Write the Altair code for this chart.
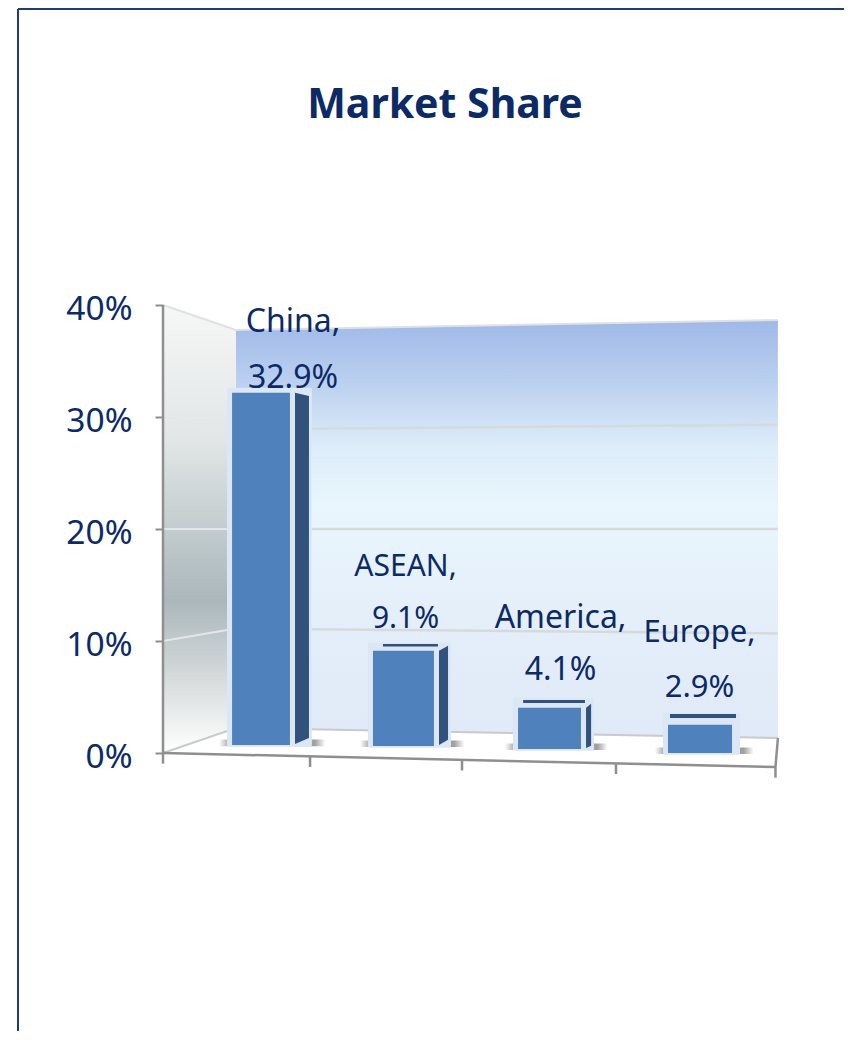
import altair as alt
import pandas as pd

categories = ["China", "ASEAN", "America", "Europe"]
values = [32.9, 9.1, 4.1, 2.9]
tick_values = [0, 10, 20, 30, 40]
label_first = ["China,", "ASEAN,", "America,", "Europe,"]
label_second = ["32.9%", "9.1%", "4.1%", "2.9%"]

NAVY = "#0b2a66"
FONT = "Noto Sans"

# geometry of the pseudo-3D scene, in axis units (category slots / percent)
bar_left = [0.45, 1.368, 2.313, 3.29]
bar_right = [0.827, 1.765, 2.723, 3.707]
bar_base = [0.71, 0.625, 0.357, 0.0]
side_w = [0.091, 0.059, 0.033, 0.0]
side_top_rise = [-0.27, 0.45, 0.36, 0.0]
side_bot_rise = [0.54, 0.45, 0.18, 0.0]
halo_rise = [0.45, 0.71, 0.89, 1.07]
strip_dx = [0.0, 0.065, 0.033, 0.013]
strip_rise_hi = [0.0, 0.6, 0.69, 0.95]
strip_rise_lo = [0.0, 0.38, 0.42, 0.59]
label_x = [0.847, 1.58, 2.59, 3.495]
label_y1 = [38.66, 16.79, 12.23, 10.89]
label_y2 = [33.66, 12.14, 7.59, 5.98]
label_size = [32, 30, 32, 31]
floor_ticks = [0.0, 0.958, 1.948, 2.951, 3.99]

WALL_L, WALL_R = 0.475, 4.006
WALL_BL, WALL_TL, WALL_BR, WALL_TR = 2.23, 37.77, 1.34, 38.66
FRONT_END = -1.25

xs = alt.Scale(domain=[0, 4])
ys = alt.Scale(domain=[-2.5, 40])

y_axis = alt.Axis(
    values=tick_values, domain=False, grid=False, ticks=True, tickSize=8, tickWidth=2,
    tickColor="#8f8f8f", labelExpr="datum.value + '%'", labelFont=FONT, labelFontSize=33.5,
    labelColor=NAVY, labelPadding=23, labelOffset=4, title=None)


def X(f="x"):
    return alt.X(f"{f}:Q", scale=xs, axis=None, title=None)


def Y(f="y"):
    return alt.Y(f"{f}:Q", scale=ys, axis=y_axis, title=None)


bars = []
for i, c in enumerate(categories):
    top = bar_base[i] + 0.964 * values[i] - 0.27
    bars.append({
        "bar": c, "x": bar_left[i], "x2": bar_right[i], "y": bar_base[i], "y2": top,
        "hx": bar_left[i] - 0.033, "hx2": bar_right[i] + side_w[i] + 0.052,
        "hy": bar_base[i] - 0.15, "hy2": top + halo_rise[i],
        "sx": bar_left[i] - 0.085, "sx2": bar_right[i] + side_w[i] + 0.14,
        "sy": bar_base[i] - 0.1, "sy2": bar_base[i] + 0.5,
        "tx": bar_left[i] + strip_dx[i], "tx2": bar_right[i] + 0.026,
        "ty": top + strip_rise_lo[i], "ty2": top + strip_rise_hi[i],
    })
bars_df = pd.DataFrame(bars)

side_rows = []
for i, c in enumerate(categories):
    if side_w[i] == 0:
        continue
    top = bar_base[i] + 0.964 * values[i] - 0.27
    l = bar_right[i] + 0.033
    side_rows.append({"bar": c, "x": l, "y": bar_base[i] + 0.1, "y2": top})
    side_rows.append({"bar": c, "x": l + side_w[i],
                      "y": bar_base[i] + 0.1 + side_bot_rise[i], "y2": top + side_top_rise[i]})
side_df = pd.DataFrame(side_rows)

labels_df = pd.DataFrame(
    [{"t": label_first[i], "x": label_x[i], "y": label_y1[i], "s": label_size[i]} for i in range(4)]
    + [{"t": label_second[i], "x": label_x[i], "y": label_y2[i], "s": label_size[i]} for i in range(4)]
)

wall_df = pd.DataFrame([
    {"x": WALL_L, "y": WALL_BL, "y2": WALL_TL},
    {"x": WALL_R, "y": WALL_BR, "y2": WALL_TR},
])
left_df = pd.DataFrame([
    {"x": 0, "y": 0, "y2": 40},
    {"x": WALL_L, "y": WALL_BL, "y2": WALL_TL},
])

grid_rows = []
side_grid_rows = []
for p in tick_values[1:-1]:
    yl = WALL_BL + p * (WALL_TL - WALL_BL) / 40
    yr = WALL_BR + p * (WALL_TR - WALL_BR) / 40
    grid_rows += [{"g": f"w{p}", "x": WALL_L, "y": yl}, {"g": f"w{p}", "x": WALL_R, "y": yr}]
    side_grid_rows += [{"g": f"s{p}", "x": 0, "y": p}, {"g": f"s{p}", "x": WALL_L, "y": yl}]
grid_df = pd.DataFrame(grid_rows)
side_grid_df = pd.DataFrame(side_grid_rows)

top_edges = pd.DataFrame([
    {"g": "top", "x": 0, "y": 40}, {"g": "top", "x": WALL_L, "y": WALL_TL}, {"g": "top", "x": WALL_R, "y": WALL_TR},
])
back_edges = pd.DataFrame([
    {"g": "back", "x": 0, "y": 0}, {"g": "back", "x": WALL_L, "y": WALL_BL}, {"g": "back", "x": WALL_R, "y": WALL_BR},
])

dark_rows = [
    {"g": "axis", "x": 0, "y": 0}, {"g": "axis", "x": 0, "y": 40},
    {"g": "front", "x": 0, "y": 0}, {"g": "front", "x": 3.99, "y": FRONT_END},
    {"g": "right", "x": WALL_R, "y": WALL_BR}, {"g": "right", "x": 3.99, "y": FRONT_END},
]
for k, t in enumerate(floor_ticks):
    yy = FRONT_END * t / 3.99
    dark_rows += [{"g": f"t{k}", "x": t, "y": yy}, {"g": f"t{k}", "x": t, "y": yy - 0.95}]
dark_df = pd.DataFrame(dark_rows)

axis_df = pd.DataFrame({"v": tick_values})

wall_grad = alt.Gradient(
    gradient="linear", x1=0, x2=0, y1=0, y2=1,
    stops=[
        alt.GradientStop(offset=0, color="#9fb9e8"),
        alt.GradientStop(offset=0.16, color="#bdd2f0"),
        alt.GradientStop(offset=0.3, color="#dcecf9"),
        alt.GradientStop(offset=0.45, color="#e9f6fd"),
        alt.GradientStop(offset=0.7, color="#e5effa"),
        alt.GradientStop(offset=1, color="#e0eaf8"),
    ],
)
left_grad = alt.Gradient(
    gradient="linear", x1=0, x2=0, y1=0, y2=1,
    stops=[
        alt.GradientStop(offset=0, color="#f6f7f7"),
        alt.GradientStop(offset=0.3, color="#e2e6e6"),
        alt.GradientStop(offset=0.66, color="#aab7bb"),
        alt.GradientStop(offset=0.82, color="#d3d8d9"),
        alt.GradientStop(offset=1, color="#ffffff"),
    ],
)
shadow_grad = alt.Gradient(
    gradient="linear", x1=0, x2=1, y1=0, y2=0,
    stops=[
        alt.GradientStop(offset=0, color="#ffffff"),
        alt.GradientStop(offset=0.08, color="#b5b5b5"),
        alt.GradientStop(offset=0.9, color="#a0a0a0"),
        alt.GradientStop(offset=1, color="#ffffff"),
    ],
)

frame_top = alt.Chart(axis_df).mark_rule(color="#1f3c78", strokeWidth=2).encode(
    x=alt.value(-145), x2=alt.value(689), y=alt.value(-296))
frame_left = alt.Chart(axis_df).mark_rule(color="#1f3c78", strokeWidth=2).encode(
    x=alt.value(-145), y=alt.value(-296), y2=alt.value(740))

wall = alt.Chart(wall_df).mark_area(color=wall_grad).encode(x=X(), y=Y(), y2="y2:Q")
left = alt.Chart(left_df).mark_area(color=left_grad).encode(x=X(), y=Y(), y2="y2:Q")
grid = alt.Chart(grid_df).mark_line(color="#d6dadc", strokeWidth=2.5).encode(x=X(), y=Y(), detail="g:N")
side_grid = alt.Chart(side_grid_df).mark_line(color="#e4e7e8", strokeWidth=2).encode(x=X(), y=Y(), detail="g:N")
tedges = alt.Chart(top_edges).mark_line(color="#dfe1e3", strokeWidth=2).encode(x=X(), y=Y(), detail="g:N")
bedges = alt.Chart(back_edges).mark_line(color="#c8cacc", strokeWidth=2).encode(x=X(), y=Y(), detail="g:N")
dedges = alt.Chart(dark_df).mark_line(color="#8f8f8f", strokeWidth=2.5).encode(x=X(), y=Y(), detail="g:N")

shadow = alt.Chart(bars_df).mark_rect(color=shadow_grad).encode(
    x=X("sx"), x2="sx2:Q", y=Y("sy"), y2="sy2:Q")
halo = alt.Chart(bars_df).mark_rect(color="#dbe7f5", cornerRadius=2).encode(
    x=X("hx"), x2="hx2:Q", y=Y("hy"), y2="hy2:Q")
strip = alt.Chart(bars_df[bars_df["bar"] != "China"]).mark_rect(color="#31527c").encode(
    x=X("tx"), x2="tx2:Q", y=Y("ty"), y2="ty2:Q")
front = alt.Chart(bars_df).mark_rect(color="#4f81bd").encode(
    x=X(), x2="x2:Q", y=Y(), y2="y2:Q")
side = alt.Chart(side_df).mark_area(color="#31527c").encode(
    x=X(), y=Y(), y2="y2:Q", detail="bar:N")

text = alt.Chart(labels_df).mark_text(font=FONT, color=NAVY, align="center", baseline="middle", dy=2).encode(
    x=X(), y=Y(), text="t:N",
    size=alt.Size("s:Q", scale=None, legend=None),
)

chart = alt.layer(
    frame_top, frame_left, wall, left, grid, side_grid, tedges, bedges, dedges,
    shadow, halo, strip, front, side, text,
).properties(
    width=614,
    height=476,
    background="white",
    padding={"left": 155, "top": 297, "right": 67, "bottom": 250},
    autosize=alt.AutoSizeParams(type="none"),
    title=alt.Title("Market Share", font=FONT, fontSize=41, fontWeight="bold", color=NAVY,
                    anchor="middle", frame="group", dx=-25, offset=-119),
).configure_view(stroke=None)

chart.save("out.html", embed_options={"renderer": "svg", "actions": False})
